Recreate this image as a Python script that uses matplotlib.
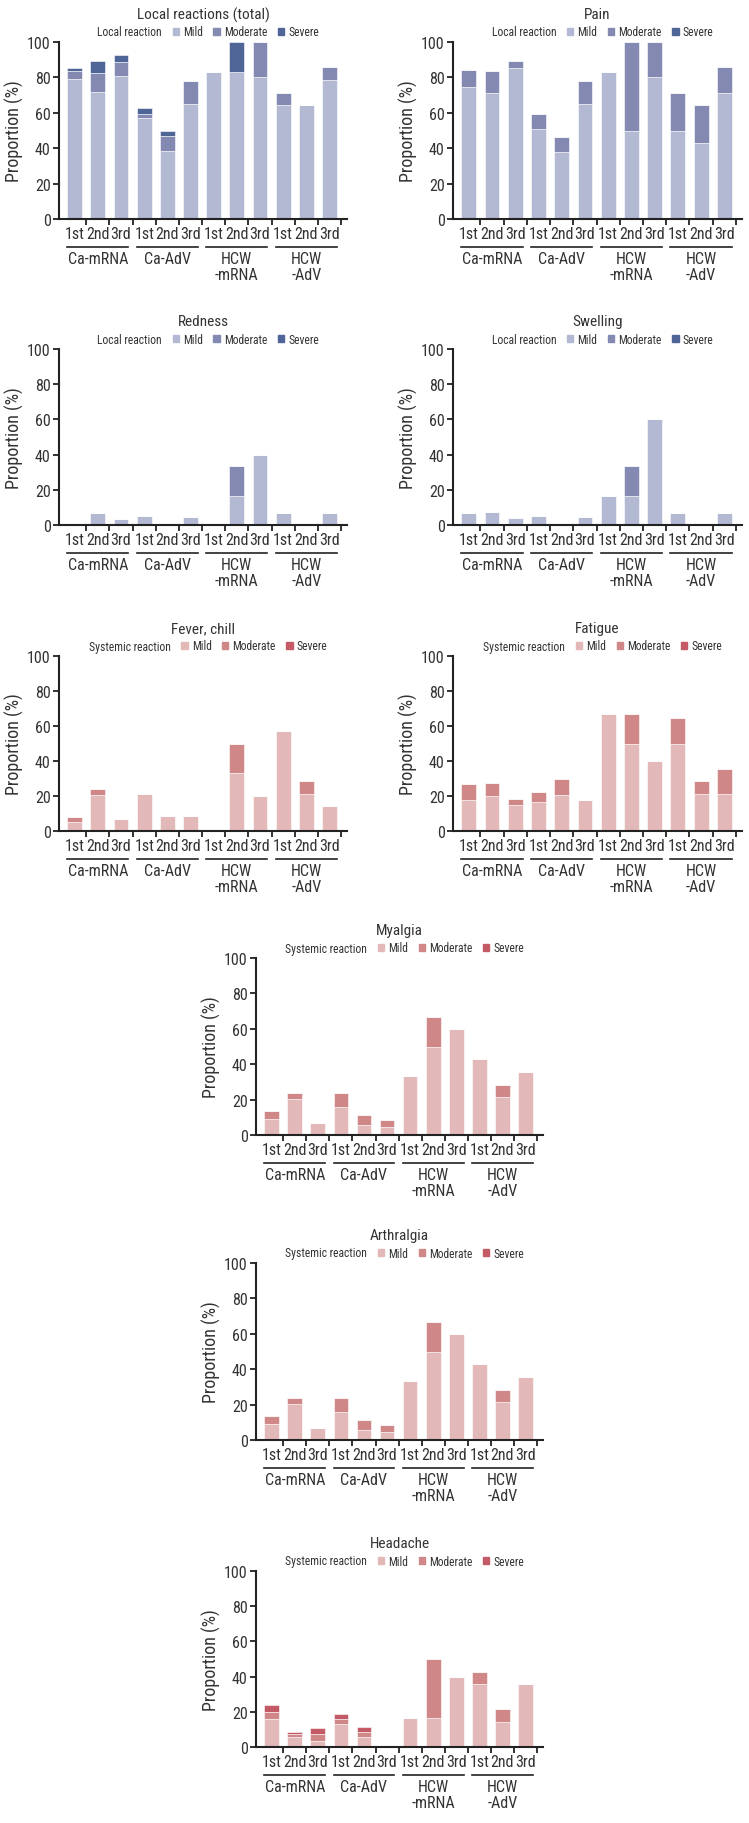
import matplotlib
matplotlib.use("Agg")
import matplotlib.pyplot as plt
import matplotlib.patches as mpatches
from matplotlib import font_manager as fm
import numpy as np

# pick a condensed sans face if one is installed, else DejaVu Sans
_have = {f.name for f in fm.fontManager.ttflist}
_pref = ['Roboto Condensed', 'Liberation Sans Narrow', 'Archivo Narrow', 'PT Sans Narrow',
         'Fira Sans Condensed', 'IBM Plex Sans Condensed', 'Barlow Condensed', 'Asap Condensed',
         'Encode Sans Condensed', 'Open Sans Condensed']
FONT = next((f for f in _pref if f in _have), None)
plt.rcParams['font.family'] = [FONT, 'DejaVu Sans'] if FONT else ['DejaVu Sans']
FS  = 11.5 if FONT else 8.5    # tick / group labels
TFS = 11.0 if FONT else 8.5    # titles
YFS = 13.0 if FONT else 9.5    # y label
LFS = 8.4 if FONT else 6.3     # legend

# ---- data (percent of participants) ----
DOSES  = ['1st', '2nd', '3rd']
GROUPS = ['Ca-mRNA', 'Ca-AdV', 'HCW\n-mRNA', 'HCW\n-AdV']

local_total_mild = [79.3, 71.5, 81.0, 57.0, 38.3, 65.2, 83.3, 83.3, 80.0, 64.3, 64.3, 78.6]
local_total_mod  = [4.4, 11.1, 7.9, 2.5, 8.7, 13.0, 0, 0, 20.0, 7.1, 0, 7.1]
local_total_sev  = [1.5, 6.7, 3.6, 3.3, 2.8, 0, 0, 16.7, 0, 0, 0, 0]

pain_mild = [74.5, 71.1, 85.3, 51.1, 37.9, 64.7, 83.3, 50.0, 80.0, 50.0, 42.9, 71.4]
pain_mod  = [9.7, 12.5, 3.9, 8.0, 8.7, 13.2, 0, 50.0, 20.0, 21.4, 21.4, 14.3]
pain_sev  = [0] * 12

redness_mild = [0, 7.1, 3.6, 5.1, 0, 4.5, 0, 16.7, 40.0, 7.1, 0, 7.1]
redness_mod  = [0, 0, 0, 0, 0, 0, 0, 16.7, 0, 0, 0, 0]
redness_sev  = [0] * 12

swelling_mild = [6.8, 7.4, 3.8, 5.3, 0, 4.5, 16.7, 16.7, 60.0, 7.1, 0, 7.1]
swelling_mod  = [0, 0, 0, 0, 0, 0, 0, 16.7, 0, 0, 0, 0]
swelling_sev  = [0] * 12

fever_mild = [5.3, 20.8, 7.0, 21.3, 8.7, 8.7, 0, 33.3, 20.0, 57.1, 21.4, 14.3]
fever_mod  = [2.9, 3.2, 0, 0, 0, 0, 0, 16.7, 0, 0, 7.1, 0]
fever_sev  = [0] * 12

fatigue_mild = [17.5, 19.8, 14.9, 16.4, 20.6, 17.5, 66.7, 50.0, 40.0, 50.0, 21.4, 21.4]
fatigue_mod  = [9.1, 7.6, 3.2, 5.7, 9.0, 0, 0, 16.7, 0, 14.3, 7.1, 14.3]
fatigue_sev  = [0] * 12

myalgia_mild = [9.1, 20.6, 7.0, 16.0, 5.8, 4.3, 33.3, 50.0, 60.0, 42.9, 21.4, 35.7]
myalgia_mod  = [4.3, 3.4, 0, 8.0, 5.7, 4.2, 0, 16.7, 0, 0, 7.1, 0]
myalgia_sev  = [0] * 12

arthralgia_mild = [9.1, 20.6, 7.0, 16.0, 5.8, 4.3, 33.3, 50.0, 60.0, 42.9, 21.4, 35.7]
arthralgia_mod  = [4.3, 3.4, 0, 8.0, 5.7, 4.2, 0, 16.7, 0, 0, 7.1, 0]
arthralgia_sev  = [0] * 12

headache_mild = [15.8, 5.7, 3.6, 13.3, 5.7, 0, 16.7, 16.7, 40.0, 35.7, 14.3, 35.7]
headache_mod  = [3.9, 1.5, 3.6, 2.7, 2.9, 0, 0, 33.3, 0, 7.1, 7.1, 0]
headache_sev  = [4.4, 1.5, 3.6, 2.7, 2.8, 0, 0, 0, 0, 0, 0, 0]

LOCAL_COLORS    = ['#b3b8d3', '#8389b1', '#506597']
SYSTEMIC_COLORS = ['#e2b9b8', '#cf8787', '#c55a67']
TXT = '#333333'

W, H = 749, 1824
fig = plt.figure(figsize=(W / 100, H / 100), dpi=100, facecolor='white')

# (title, kind, series, left px, top px, right px, bottom px)
panels = [
    ('Local reactions (total)', 'local', (local_total_mild, local_total_mod, local_total_sev), 59, 43, 347, 220),
    ('Pain', 'local', (pain_mild, pain_mod, pain_sev), 453, 43, 742, 220),
    ('Redness', 'local', (redness_mild, redness_mod, redness_sev), 59, 350, 347, 526),
    ('Swelling', 'local', (swelling_mild, swelling_mod, swelling_sev), 453, 350, 742, 526),
    ('Fever, chill', 'sys', (fever_mild, fever_mod, fever_sev), 59, 657, 347, 832),
    ('Fatigue', 'sys', (fatigue_mild, fatigue_mod, fatigue_sev), 453, 657, 742, 832),
    ('Myalgia', 'sys', (myalgia_mild, myalgia_mod, myalgia_sev), 256, 959, 543, 1136),
    ('Arthralgia', 'sys', (arthralgia_mild, arthralgia_mod, arthralgia_sev), 256, 1264, 543, 1441),
    ('Headache', 'sys', (headache_mild, headache_mod, headache_sev), 256, 1572, 543, 1748),
]

x = np.arange(12)
bw = 0.64

for title, kind, series, l, t, r, b in panels:
    ax = fig.add_axes([l / W, 1 - b / H, (r - l) / W, (b - t) / H])
    hpx = b - t
    colors = LOCAL_COLORS if kind == 'local' else SYSTEMIC_COLORS
    bottom = np.zeros(12)
    for vals, c in zip(series, colors):
        vals = np.array(vals, dtype=float)
        ax.bar(x, vals, bw, bottom=bottom, color=c, edgecolor='white', linewidth=0.4)
        bottom += vals

    ax.set_xlim(-0.68, 11.76)
    ax.set_ylim(0, 100)
    for s in ['top', 'right']:
        ax.spines[s].set_visible(False)
    for s in ['left', 'bottom']:
        ax.spines[s].set_linewidth(1.5)
        ax.spines[s].set_color('#222222')

    ax.set_yticks(range(0, 101, 20))
    ax.tick_params(axis='y', direction='out', length=4, width=1.3, colors='#222222',
                   labelcolor=TXT, labelsize=FS, pad=2)
    ax.set_xticks(np.arange(0.5, 12, 1))
    ax.set_xticklabels([])
    ax.tick_params(axis='x', which='major', direction='out', length=4, width=1.3, colors='#222222')
    ax.set_xticks(x, minor=True)
    ax.set_xticklabels(DOSES * 4, minor=True)
    ax.tick_params(axis='x', which='minor', length=0, pad=5, labelsize=FS, labelcolor=TXT)

    ax.set_ylabel('Proportion (%)', fontsize=YFS, color=TXT)
    ax.yaxis.set_label_coords(-35 / (r - l), 0.5)

    # group underlines and labels
    for gi, g in enumerate(GROUPS):
        x0, x1 = gi * 3 - bw / 2, gi * 3 + 2 + bw / 2
        ax.plot([x0, x1], [-28 / hpx] * 2, color='#222222', lw=1.2,
                transform=ax.get_xaxis_transform(), clip_on=False)
        ax.text(gi * 3 + 1, -32 / hpx, g, transform=ax.get_xaxis_transform(),
                ha='center', va='top', fontsize=FS, color=TXT, linespacing=1.05)

    ax.text(0.5, 1 + 28 / hpx, title, transform=ax.transAxes, ha='center',
            va='center', fontsize=TFS, color=TXT)

    lead = 'Local reaction' if kind == 'local' else 'Systemic reaction'
    handles = [mpatches.Patch(color='none', label=lead)]
    handles += [mpatches.Patch(color=c, label=n) for c, n in zip(colors, ['Mild', 'Moderate', 'Severe'])]
    leg = ax.legend(handles=handles, loc='center', bbox_to_anchor=(0.5, 1 + 10 / hpx),
                    ncol=4, frameon=False, fontsize=LFS, handlelength=0.55, handleheight=0.55,
                    handletextpad=0.35, columnspacing=0.9, borderpad=0, borderaxespad=0)
    for txt in leg.get_texts():
        txt.set_color(TXT)

fig.savefig('out.png', dpi=100, facecolor='white')
